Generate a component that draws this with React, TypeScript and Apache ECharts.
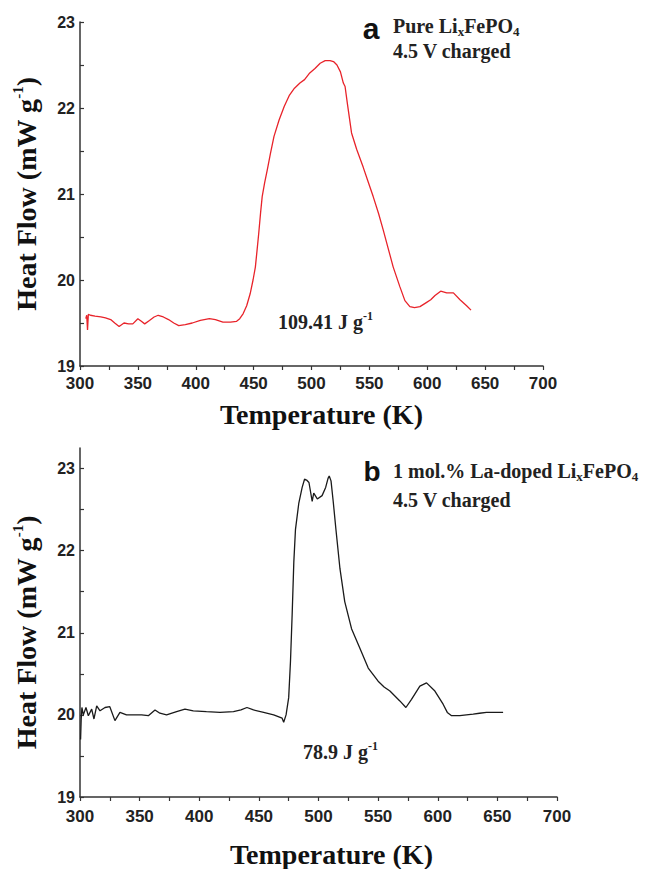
import React, { useEffect, useRef } from "react";
import * as echarts from "echarts";

// Panel a: pure LixFePO4 (red)
const tempA = [
  305.0, 305.8, 306.5, 307.2, 309, 313, 318, 322, 326.5, 330, 333.8, 338, 342, 345.6, 350, 353, 355.9, 360, 364,
  367.6, 372, 376.5, 381, 385.3, 391, 397, 404, 411.8, 417, 423.5, 430, 435.3, 438, 441, 444, 447, 449.5, 451.5,
  453, 454.4, 456, 457.4, 459.5, 461.8, 464.5, 467.6, 472, 476.5, 481, 485.3, 490, 494, 498, 503, 507.5, 511.8,
  516, 519, 522, 525, 527.5, 529, 531, 534.6, 539, 544.7, 549, 553.3, 558, 562, 566, 570.6, 576.4, 580.7, 585,
  589, 593.7, 599.5, 603, 606.7, 611.6, 616.8, 622.6, 628.3, 634, 637.8,
];
const heatA = [
  19.55, 19.59, 19.42, 19.6, 19.59, 19.58, 19.57, 19.56, 19.54, 19.5, 19.46, 19.5, 19.49, 19.49, 19.55, 19.52,
  19.49, 19.53, 19.57, 19.59, 19.57, 19.54, 19.5, 19.47, 19.48, 19.5, 19.53, 19.55, 19.54, 19.51, 19.51, 19.52,
  19.55, 19.61, 19.7, 19.84, 20.0, 20.15, 20.35, 20.54, 20.78, 20.97, 21.13, 21.28, 21.47, 21.67, 21.86, 22.02,
  22.15, 22.23, 22.29, 22.33, 22.4, 22.46, 22.52, 22.55, 22.55, 22.54, 22.5, 22.42, 22.29, 22.25, 22.05, 21.71,
  21.52, 21.31, 21.14, 20.97, 20.77, 20.58, 20.38, 20.15, 19.92, 19.76, 19.69, 19.68, 19.69, 19.74, 19.77, 19.82,
  19.87, 19.85, 19.85, 19.77, 19.7, 19.65,
];

// Panel b: 1 mol.% La-doped LixFePO4 (black)
const tempB = [
  300.5, 301, 301.6, 302.8, 305, 307, 309.8, 311.7, 314, 316.8, 321, 325, 329.3, 333.5, 339, 344.7, 351.7, 357.3,
  362.9, 367, 372.6, 381, 388, 395, 406, 417.4, 428.7, 435, 440, 445.5, 454, 462.4, 469.5, 470.8, 472.8, 475,
  476.5, 477.9, 479.3, 480.7, 483.5, 486.3, 488.3, 490, 492, 494.7, 496, 499, 503, 506, 508, 509, 510.5, 512.4,
  514.6, 518, 522, 527.7, 534.7, 541.7, 550, 555, 559.9, 568.2, 573.3, 578, 585, 590.6, 597.6, 604.5, 608, 611.6,
  618.5, 624, 629.7, 635, 640.9, 647, 654.8,
];
const heatB = [
  19.7, 19.95, 20.09, 20.0, 20.09, 19.99, 20.07, 19.95, 20.11, 20.05, 20.09, 20.1, 19.93, 20.03, 20.0, 20.0, 20.0,
  19.99, 20.06, 20.02, 20.0, 20.04, 20.07, 20.05, 20.04, 20.03, 20.04, 20.06, 20.09, 20.06, 20.03, 20.0, 19.96,
  19.91, 20.0, 20.21, 20.65, 21.22, 21.86, 22.26, 22.58, 22.77, 22.87, 22.86, 22.83, 22.6, 22.7, 22.63, 22.67,
  22.77, 22.88, 22.91, 22.85, 22.59, 22.26, 21.78, 21.38, 21.05, 20.81, 20.57, 20.41, 20.34, 20.29, 20.17, 20.09,
  20.19, 20.35, 20.39, 20.29, 20.13, 20.03, 19.99, 19.99, 20.0, 20.01, 20.02, 20.03, 20.03, 20.03,
];

const yLabelValues = [19, 20, 21, 22, 23];
const yTickValues = [19, 19.5, 20, 20.5, 21, 21.5, 22, 22.5, 23];

const xAxisTitle = "Temperature (K)";
const yAxisTitle = "{t|Heat Flow (mW g}{s|-1}{t|)}";

const SANS = "'Liberation Sans', Arial, sans-serif";
const SERIF = "'Liberation Serif', 'Times New Roman', serif";

const axisColor = "#333";

function xAxisCfg(gridIndex: number, nameGap: number, padLeft: number, labelMargin: number) {
  return {
    gridIndex,
    type: "value",
    min: 300,
    max: 700,
    interval: 50,
    name: xAxisTitle,
    nameLocation: "middle",
    nameGap,
    nameTextStyle: {
      fontFamily: SERIF,
      fontWeight: "bold",
      fontSize: 28,
      color: "#111",
      padding: [0, 0, 0, padLeft],
    },
    axisLine: { show: true, onZero: false, lineStyle: { color: axisColor, width: 1.5 } },
    axisTick: { show: true, length: 4, lineStyle: { color: axisColor, width: 1.2 } },
    minorTick: { show: true, splitNumber: 2, length: 4, lineStyle: { color: axisColor, width: 1.2 } },
    splitLine: { show: false },
    axisLabel: {
      fontFamily: SANS,
      fontWeight: "bold",
      fontSize: 17,
      color: "#222",
      margin: labelMargin,
    },
  };
}

function yAxisCfg(gridIndex: number, max: number, padRight: number) {
  return {
    gridIndex,
    type: "value",
    min: 19,
    max,
    interval: 1,
    name: yAxisTitle,
    nameLocation: "middle",
    nameGap: 38,
    nameTextStyle: {
      padding: [0, padRight, 0, 0],
      rich: {
        t: { fontFamily: SERIF, fontWeight: "bold", fontSize: 28, color: "#111", lineHeight: 32 },
        s: { fontFamily: SERIF, fontWeight: "bold", fontSize: 15, color: "#111", lineHeight: 15, verticalAlign: "top" },
      },
    },
    axisLine: { show: true, onZero: false, lineStyle: { color: axisColor, width: 1.5 } },
    axisTick: {
      show: true,
      inside: true,
      length: 4,
      customValues: yTickValues,
      lineStyle: { color: axisColor, width: 1.2 },
    },
    minorTick: { show: false },
    splitLine: { show: false },
    axisLabel: {
      customValues: yLabelValues,
      fontFamily: SANS,
      fontWeight: "bold",
      fontSize: 16,
      color: "#222",
      margin: 5,
    },
  };
}

const serifRich = {
  n: { fontFamily: SERIF, fontWeight: "bold", fontSize: 20, fill: "#222", lineHeight: 24 },
  sub: { fontFamily: SERIF, fontWeight: "bold", fontSize: 13, fill: "#222", lineHeight: 13, verticalAlign: "bottom" },
  sup: { fontFamily: SERIF, fontWeight: "bold", fontSize: 12, fill: "#222", lineHeight: 12, verticalAlign: "top" },
};

function label(x: number, y: number, text: string) {
  return {
    type: "text",
    x,
    y,
    style: {
      text,
      rich: serifRich,
      align: "left",
      verticalAlign: "middle",
      fill: "#222",
    },
  };
}

export default function App() {
  const ref = useRef<HTMLDivElement>(null);
  useEffect(() => {
    if (!ref.current) return;
    const chart = echarts.init(ref.current, undefined, { renderer: "svg" });
    const dataA = tempA.map((t, i) => [t, heatA[i]]);
    const dataB = tempB.map((t, i) => [t, heatB[i]]);
    chart.setOption({
      animation: false,
      backgroundColor: "#ffffff",
      grid: [
        { left: 80, top: 22, width: 463, height: 344 },
        { left: 80, top: 448, width: 477, height: 352 },
      ],
      xAxis: [xAxisCfg(0, 34, 20, 9), xAxisCfg(1, 43, 26, 11)],
      yAxis: [yAxisCfg(0, 23, 0), yAxisCfg(1, 23.25, 20)],
      series: [
        {
          type: "line",
          xAxisIndex: 0,
          yAxisIndex: 0,
          data: dataA,
          showSymbol: false,
          lineStyle: { color: "#e8232a", width: 1.3 },
        },
        {
          type: "line",
          xAxisIndex: 1,
          yAxisIndex: 1,
          data: dataB,
          showSymbol: false,
          lineStyle: { color: "#1a1a1a", width: 1.3 },
        },
      ],
      graphic: [
        {
          type: "text",
          x: 371,
          y: 28,
          style: { text: "a", font: `bold 30px ${SANS}`, fill: "#111", align: "center", verticalAlign: "middle" },
        },
        label(393, 26, "{n|Pure Li}{sub|x}{n|FePO}{sub|4}"),
        label(393, 51, "{n|4.5 V charged}"),
        label(278, 322, "{n|109.41 J g}{sup|-1}"),
        {
          type: "text",
          x: 372,
          y: 471,
          style: { text: "b", font: `bold 28px ${SANS}`, fill: "#111", align: "center", verticalAlign: "middle" },
        },
        label(393, 471, "{n|1 mol.% La-doped Li}{sub|x}{n|FePO}{sub|4}"),
        label(393, 500, "{n|4.5 V charged}"),
        label(303, 752, "{n|78.9 J g}{sup|-1}"),
      ],
    });
    return () => chart.dispose();
  }, []);
  return (
    <div
      ref={ref}
      style={{ position: "absolute", left: 0, top: 0, width: 651, height: 869, background: "#fff" }}
    />
  );
}
